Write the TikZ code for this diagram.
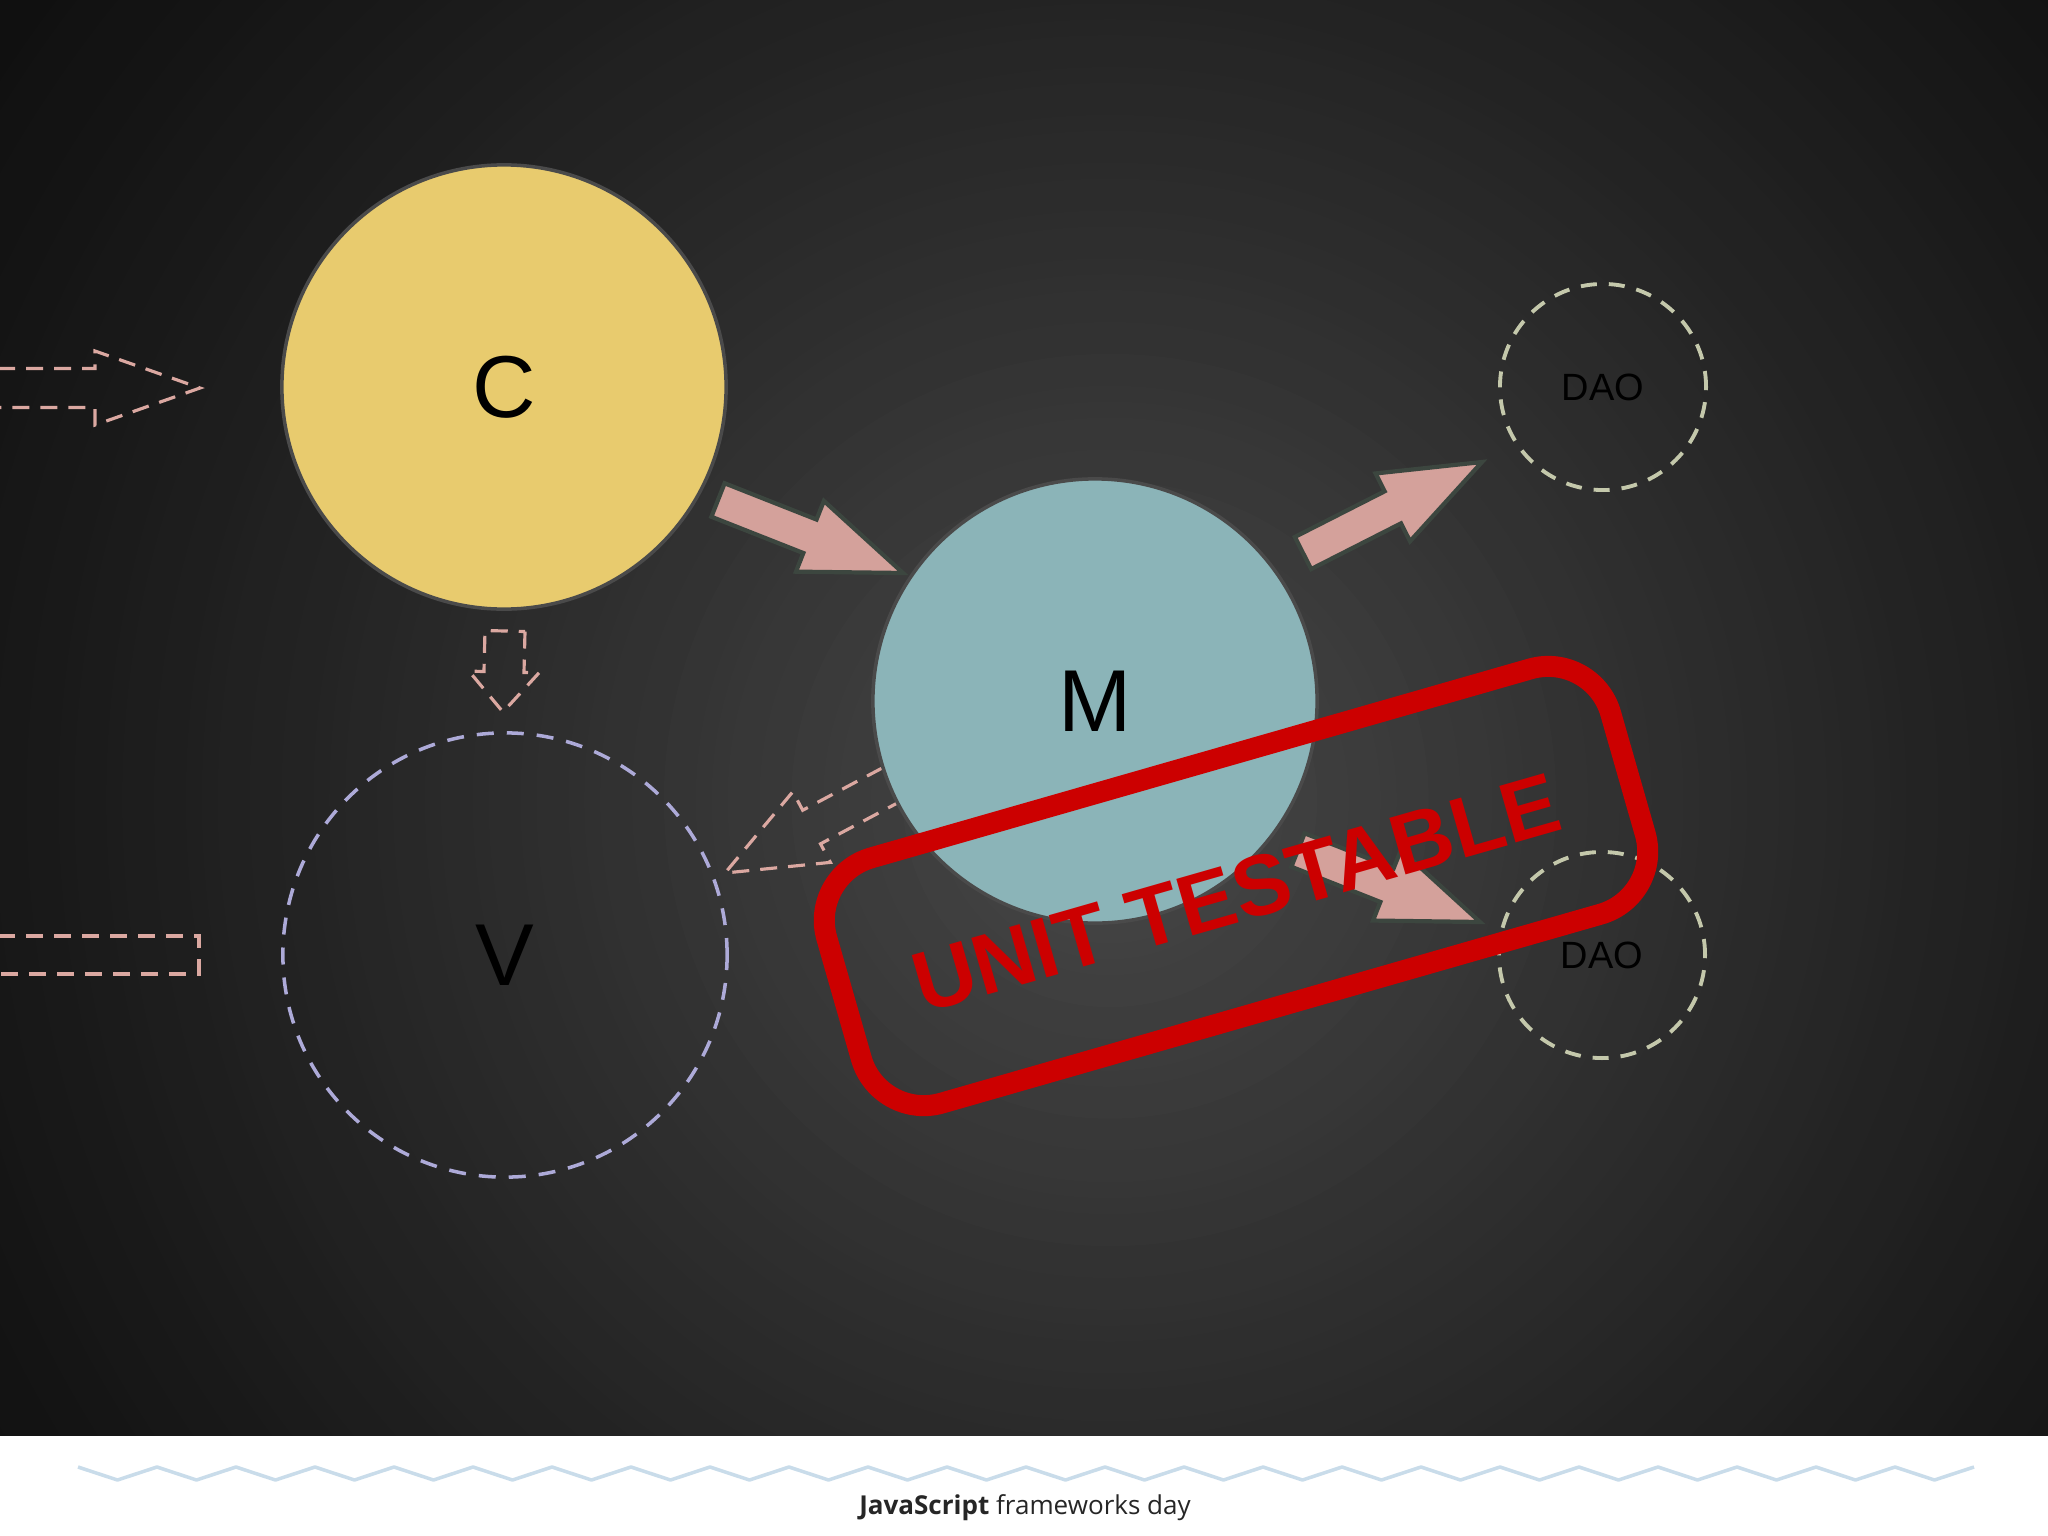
\documentclass[tikz,border=0pt]{standalone}
\usepackage{fontspec}
\setmainfont{Liberation Sans}
\newfontfamily\footfont{Open Sans}
\usetikzlibrary{calc}
\definecolor{bgin}{HTML}{484848}
\definecolor{bgout}{HTML}{0E0E0E}
\definecolor{ctrlyellow}{HTML}{E8CB6E}
\definecolor{modelblue}{HTML}{8BB4B8}
\definecolor{rim}{HTML}{4A4A4A}
\definecolor{arrowpink}{HTML}{D4A19B}
\definecolor{arrowrim}{HTML}{3C463F}
\definecolor{dashpink}{HTML}{DBA8A1}
\definecolor{viewlilac}{HTML}{ADAAD8}
\definecolor{daogreen}{HTML}{C4C8AB}
\definecolor{stampred}{HTML}{CC0000}
\definecolor{zigblue}{HTML}{C9DCEA}
% block arrow: [style]{tail}{tip}{half shaft}{half head}{head length}
\newcommand{\blockarrow}[6][]{%
  \coordinate (neck) at ($(#3)!#6!(#2)$);
  \draw[#1] ($(#2)!#4!90:(#3)$) -- ($(neck)!#4!90:(#3)$) -- ($(neck)!#5!90:(#3)$) -- (#3)
    -- ($(neck)!#5!-90:(#3)$) -- ($(neck)!#4!-90:(#3)$) -- ($(#2)!#4!-90:(#3)$) -- cycle;}
\tikzset{
  big/.style={circle, minimum size=4.44cm, inner sep=0pt, font=\fontsize{25}{30}\selectfont},
  solidarrow/.style={fill=arrowpink, draw=arrowrim, line width=1.2pt, line join=miter},
  dasharrow/.style={draw=dashpink, line width=0.9pt, dash pattern=on 0.17cm off 0.11cm},
  dao/.style={circle, minimum size=2.06cm, inner sep=0pt, draw=daogreen, line width=1.1pt,
    dash pattern=on 0.16cm off 0.12cm, font=\fontsize{10.8}{13}\selectfont},
}
\begin{document}
\begin{tikzpicture}[x=0.01cm,y=-0.01cm]
\useasboundingbox (0,0) rectangle (2048,1536);
\clip (0,0) rectangle (2048,1536);
\fill[white] (0,0) rectangle (2048,1536);
% dark slide with a soft glow
\begin{scope}
\clip (0,0) rectangle (2048,1435);
\fill[bgout] (0,0) rectangle (2048,1435);
\foreach \k in {1,...,90} {
  \pgfmathsetmacro\rr{1450*(1-\k/91)}
  \pgfmathtruncatemacro\pp{100*(\k/90)^1.2}
  \fill[bgin!\pp!bgout] (1110,800) circle (\rr);
}
\end{scope}
% incoming requests
\coordinate (in) at (-30,388); \coordinate (intip) at (200,388);
\blockarrow[dasharrow]{in}{intip}{0.195cm}{0.37cm}{1.05cm}
\draw[dasharrow] (-30,936) -- (199,936) -- (199,974) -- (-30,974);
\node[big, fill=ctrlyellow, draw=rim, line width=1pt] (ctrl) at (504,387) {C};
\node[big, draw=viewlilac, line width=1pt, dash pattern=on 0.17cm off 0.13cm] (view) at (505,955) {V};
% dashed arrows into V
\coordinate (cv) at (505,631); \coordinate (cvtip) at (503,712);
\blockarrow[dasharrow]{cv}{cvtip}{0.2cm}{0.35cm}{0.4cm}
\coordinate (mv) at (919,770); \coordinate (mvtip) at (725,873);
\blockarrow[dasharrow]{mv}{mvtip}{0.19cm}{0.4cm}{0.98cm}
\node[big, fill=modelblue, draw=rim, line width=1pt] (model) at (1095,701) {M};
\node[dao] (dao1) at (1603,387) {DAO};
\node[dao] (dao2) at (1602,955) {DAO};
% solid arrows
\coordinate (cm) at (718,500); \coordinate (cmtip) at (903,573);
\blockarrow[solidarrow]{cm}{cmtip}{0.18cm}{0.38cm}{1cm}
\coordinate (md1) at (1303,553); \coordinate (md1tip) at (1482,462);
\blockarrow[solidarrow]{md1}{md1tip}{0.18cm}{0.38cm}{1cm}
\coordinate (md2) at (1298,850); \coordinate (md2tip) at (1480,922);
\blockarrow[solidarrow]{md2}{md2tip}{0.18cm}{0.38cm}{1cm}
% stamp
\node[draw=stampred, line width=0.21cm, rounded corners=0.65cm, rotate=16,
  minimum width=8.15cm, minimum height=2.55cm] (stamp) at (1236,886) {};
\node[rotate=16, text=stampred, font=\bfseries\fontsize{24.3}{29}\selectfont] (stamptext) at (1236,893) {UNIT TESTABLE};
% footer
\draw[zigblue, line width=1pt, line join=round] (78,1467) foreach \i in {1,...,24} {-- ++(39.5,13) -- ++(39.5,-13)};
\node[font=\footfont\fontsize{7.4}{9}\selectfont, text=black!85] (foot) at (1025,1508) {\textbf{JavaScript} frameworks day};
\end{tikzpicture}
\end{document}
